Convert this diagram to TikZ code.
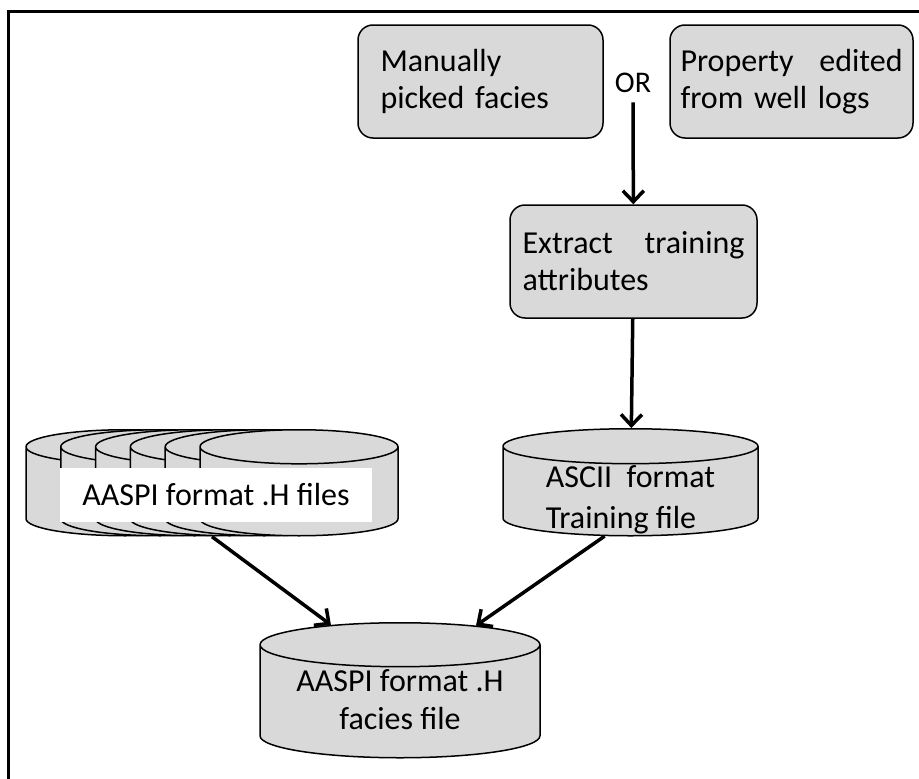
\documentclass[tikz,border=0pt]{standalone}
\usepackage{fontspec}
\setmainfont{Carlito}
\usepackage{tikz}
\usetikzlibrary{fit,shapes.geometric,arrows.meta}
\definecolor{boxgray}{RGB}{217,217,217}

\begin{document}
\begin{tikzpicture}[x=1pt, y=-1pt]
    \tikzset{
        stepbox/.style={
            draw=black, fill=boxgray, line width=1.5pt,
            minimum height=113pt, minimum width=245pt,
            rounded corners=15pt, font=\fontsize{32}{37}\selectfont,
            text width=222pt, align=left, inner sep=0pt
        },
        datafile/.style 2 args={
            cylinder, shape border rotate=90, draw=black, fill=boxgray,
            line width=1.5pt, inner sep=0pt, anchor=top,
            text width=#1, minimum width=#1, minimum height=#2
        },
        filetext/.style={
            font=\fontsize{32}{#1}\selectfont, inner sep=0pt
        },
        flow/.style={
            line width=3.5pt, -{Straight Barb[length=11pt,width=21pt]}
        },
    }
    \useasboundingbox (0,0) rectangle (919,779);

    % ==== Frame ====
    \draw[line width=2.5pt] (919,11.5) -- (8.5,11.5) -- (8.5,779);

    % ==== Top row: sources ====
    \node[stepbox, text width=200pt] (manual) at (480.5,81.5)
        {Manually\\picked facies};
    \node[font=\fontsize{30}{32}\selectfont] (or) at (633,83) {OR};
    \node[stepbox, minimum width=243pt] (property) at (791.5,81.5)
        {Property\hfill edited\\from well logs};

    % ==== Extraction ====
    \node[stepbox, minimum width=247pt] (extract) at (633.5,261.5)
        {Extract\hfill training\\attributes};

    % ==== Data files ====
    \node[datafile={255pt}{107pt}, aspect=0.137] (ascii) at (630.5,428) {};
    \node[filetext=41, align=left] (asciitext) at (630.5,500)
        {ASCII~ format\\Training file};

    \foreach \i in {0,...,5}
        \node[datafile={198pt}{106pt}, aspect=0.172] (c\i)
            at (125+34.8*\i,429) {};
    \node[fit=(c0)(c5), inner sep=0pt] (stack) {};
    \node[filetext=39, fill=white, minimum width=312pt, minimum height=54pt]
        (stacklabel) at (216,495) {AASPI format .H files};

    \node[datafile={280pt}{135pt}, aspect=0.157] (facies) at (400,622) {};
    \node[filetext=38, align=center] (faciestext) at (400,700)
        {AASPI format .H\\facies file};

    % ==== Connectors ====
    \draw[flow, shorten <=6pt] (or) -- (extract);
    \draw[flow] (extract) -- (ascii);
    \draw[flow] (stack.south) -- (facies.132);
    \draw[flow] (ascii.240) -- (facies.45);
\end{tikzpicture}
\end{document}
